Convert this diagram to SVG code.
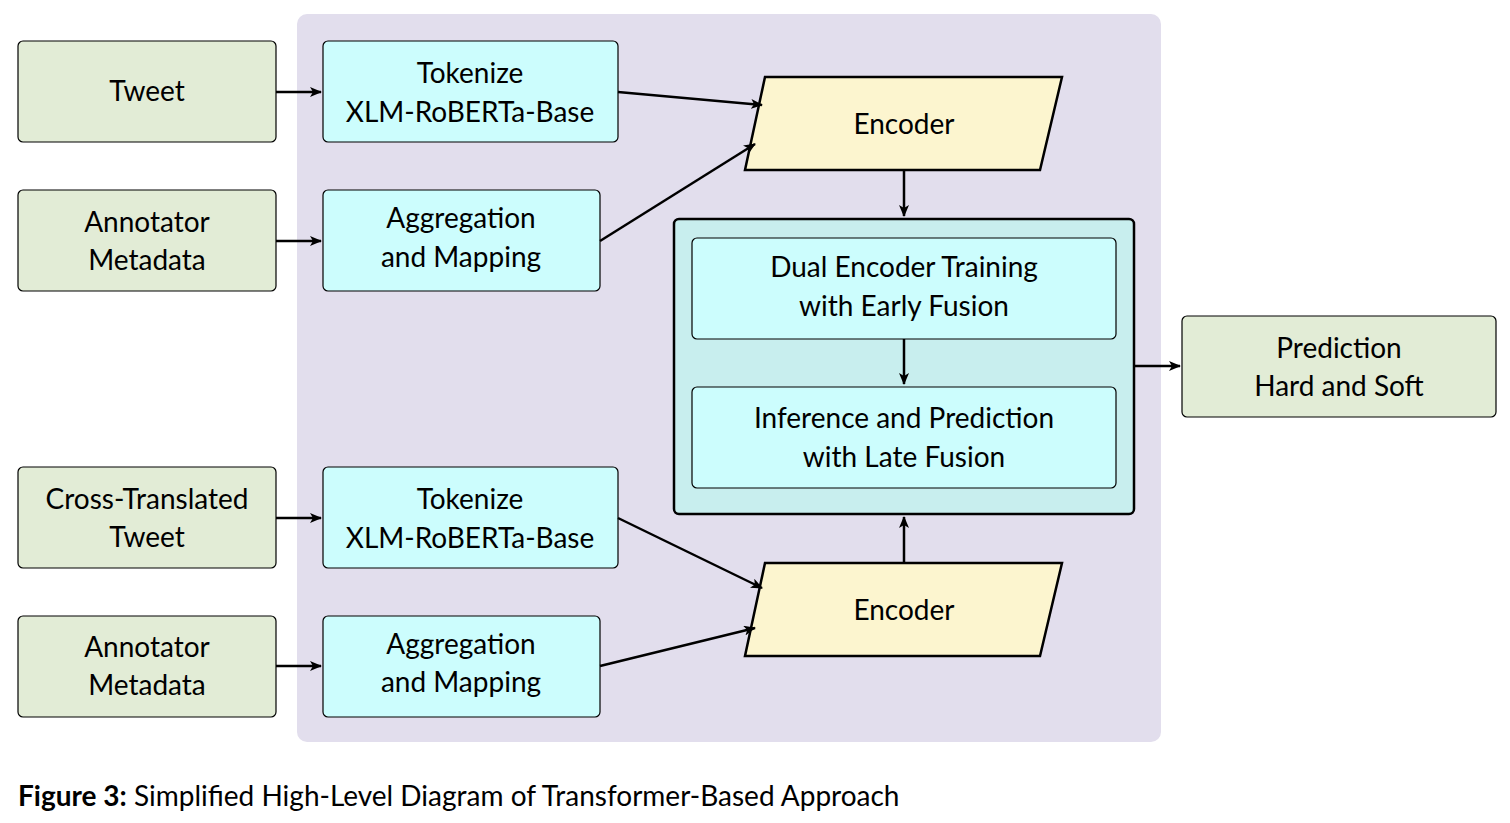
<svg xmlns="http://www.w3.org/2000/svg" width="1510" height="823" viewBox="0 0 1510 823">
<defs>
<marker id="ah" markerWidth="12" markerHeight="10" refX="11" refY="5" orient="auto" markerUnits="userSpaceOnUse"><path d="M0,0 L12,5 L0,10 L3,5 Z" fill="#000"/></marker>
<style>
.g{fill:#e2ecd6;stroke:#000;stroke-width:1.2}
.c{fill:#ccfdfd;stroke:#000;stroke-width:1.2}
.e{fill:#fcf5cf;stroke:#000;stroke-width:2.5}
.t{font-family:Lato,"Open Sans",sans-serif;font-size:28px;text-anchor:middle;fill:#000}
.a{stroke:#000;stroke-width:2.5;fill:none;marker-end:url(#ah)}
</style>
</defs>
<rect width="1510" height="823" fill="#fff"/>
<rect x="297" y="14" width="864" height="728" rx="10" fill="#e2deed"/>
<g id="tweet"><rect class="g" x="18" y="41" width="258" height="101" rx="5"/><text class="t" x="147" y="101">Tweet</text></g>
<g id="annot1"><rect class="g" x="18" y="190" width="258" height="101" rx="5"/><text class="t" x="147" y="232">Annotator</text><text class="t" x="147" y="270">Metadata</text></g>
<g id="cross"><rect class="g" x="18" y="467" width="258" height="101" rx="5"/><text class="t" x="147" y="509">Cross-Translated</text><text class="t" x="147" y="547">Tweet</text></g>
<g id="annot2"><rect class="g" x="18" y="616" width="258" height="101" rx="5"/><text class="t" x="147" y="657">Annotator</text><text class="t" x="147" y="695">Metadata</text></g>
<g id="pred"><rect class="g" x="1182" y="316" width="314" height="101" rx="5"/><text class="t" x="1339" y="358">Prediction</text><text class="t" x="1339" y="396">Hard and Soft</text></g>
<g id="tok1"><rect class="c" x="323" y="41" width="295" height="101" rx="5"/><text class="t" x="470" y="83">Tokenize</text><text class="t" x="470" y="122">XLM-RoBERTa-Base</text></g>
<g id="agg1"><rect class="c" x="323" y="190" width="277" height="101" rx="5"/><text class="t" x="461" y="228">Aggregation</text><text class="t" x="461" y="267">and Mapping</text></g>
<g id="tok2"><rect class="c" x="323" y="467" width="295" height="101" rx="5"/><text class="t" x="470" y="509">Tokenize</text><text class="t" x="470" y="548">XLM-RoBERTa-Base</text></g>
<g id="agg2"><rect class="c" x="323" y="616" width="277" height="101" rx="5"/><text class="t" x="461" y="654">Aggregation</text><text class="t" x="461" y="692">and Mapping</text></g>
<g id="enc1"><polygon class="e" points="765,77 1062,77 1040,170 745,170"/><text class="t" x="904" y="134">Encoder</text></g>
<g id="enc2"><polygon class="e" points="765,563 1062,563 1040,656 745,656"/><text class="t" x="904" y="620">Encoder</text></g>
<g id="big"><rect x="674" y="219" width="460" height="295" rx="5" fill="#c8eeee" stroke="#000" stroke-width="2.5"/></g>
<g id="dual"><rect class="c" x="692" y="238" width="424" height="101" rx="5"/><text class="t" x="904" y="277">Dual Encoder Training</text><text class="t" x="904" y="316">with Early Fusion</text></g>
<g id="infer"><rect class="c" x="692" y="387" width="424" height="101" rx="5"/><text class="t" x="904" y="428">Inference and Prediction</text><text class="t" x="904" y="467">with Late Fusion</text></g>
<g id="connectors">
<line class="a" x1="276" y1="92" x2="321" y2="92"/>
<line class="a" x1="276" y1="241" x2="321" y2="241"/>
<line class="a" x1="276" y1="518" x2="321" y2="518"/>
<line class="a" x1="276" y1="666" x2="321" y2="666"/>
<line class="a" x1="618" y1="92" x2="762" y2="105"/>
<line class="a" x1="600" y1="241" x2="755" y2="144"/>
<line class="a" x1="618" y1="518" x2="762" y2="588"/>
<line class="a" x1="600" y1="666" x2="755" y2="628"/>
<line class="a" x1="904" y1="170" x2="904" y2="216"/>
<line class="a" x1="904" y1="339" x2="904" y2="384"/>
<line class="a" x1="904" y1="563" x2="904" y2="517"/>
<line class="a" x1="1134" y1="366" x2="1180" y2="366"/>
</g>
<text x="18" y="806" style="font-family:Lato,'Open Sans',sans-serif;font-size:28px"><tspan font-weight="bold">Figure 3:</tspan> Simplified High-Level Diagram of Transformer-Based Approach</text>
</svg>
